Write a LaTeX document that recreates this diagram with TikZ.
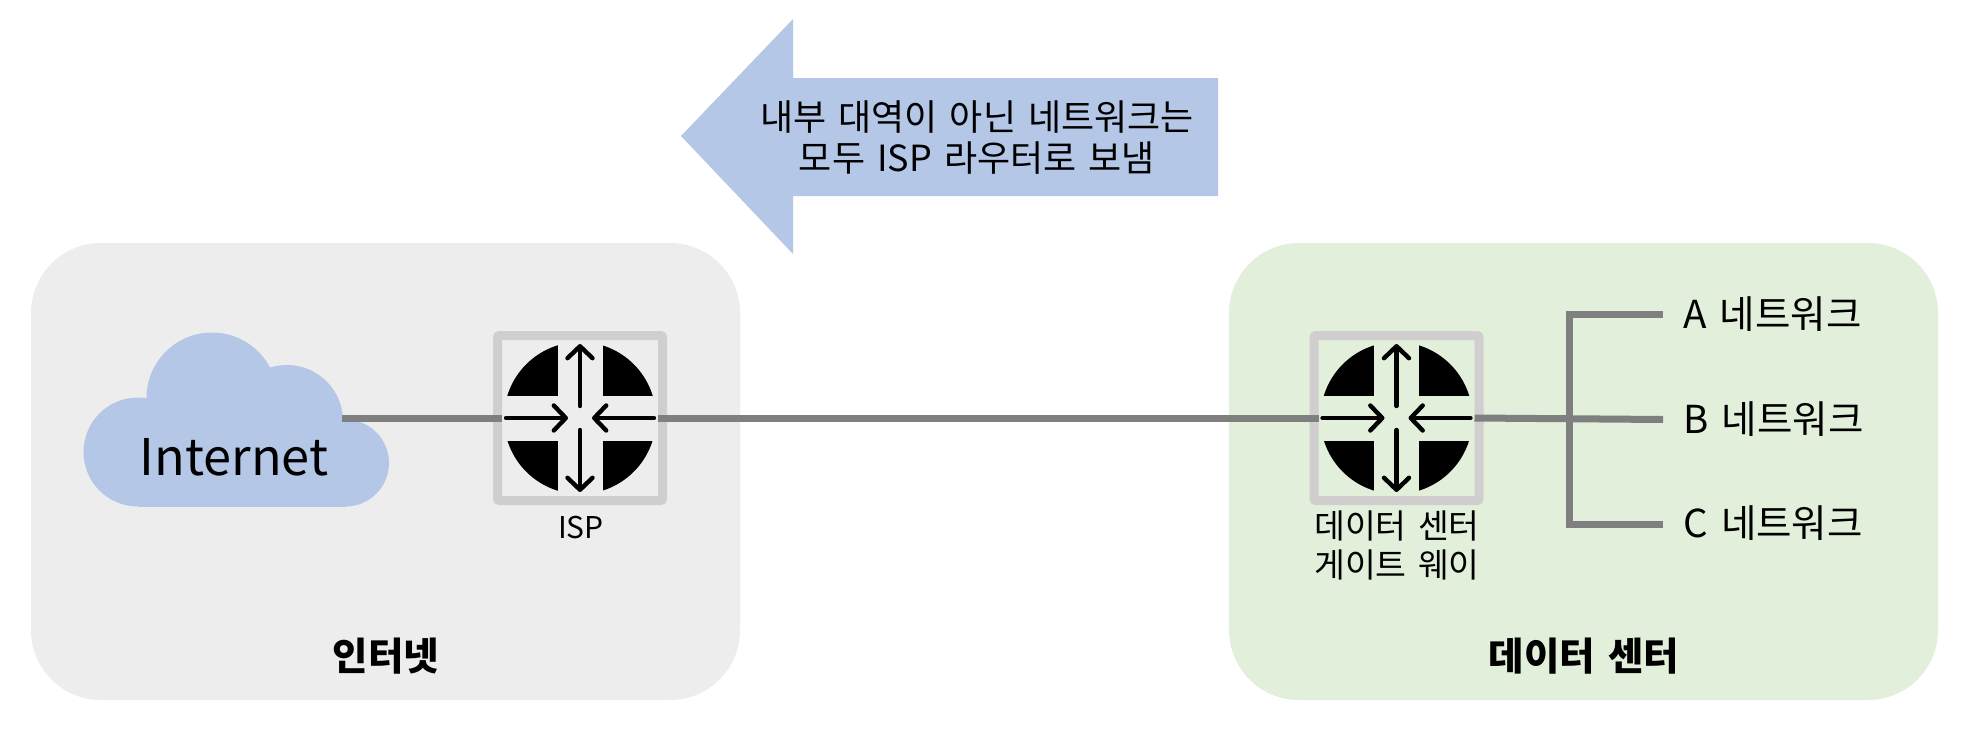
\documentclass[tikz,border=0pt]{standalone}
\usepackage{fontspec}
\setmainfont{Noto Sans CJK KR}[WordSpace=1.5]
\usetikzlibrary{arrows.meta, positioning}
\definecolor{panelgray}{HTML}{EDEDED}
\definecolor{panelgreen}{HTML}{E2EFDA}
\definecolor{skyblue}{HTML}{B4C7E7}
\definecolor{framegray}{HTML}{D0CECE}
\definecolor{linkgray}{HTML}{7F7F7F}
\tikzset{
    panel/.style={fill=#1, rounded corners=70pt},
    routerbox/.style={draw=framegray, line width=9pt, rounded corners=2pt, minimum size=165pt, inner sep=0pt, outer sep=-4.5pt},
    link/.style={draw=linkgray, line width=7pt},
    flow/.style={line width=4.4pt, line cap=round, -{Straight Barb[length=12pt, width=25pt, round]}},
    routericon/.pic={
        \begin{scope}
            \clip (0,0) circle (76);
            \fill[black] (-22.5,-22.5) rectangle (-80,-80);
            \fill[black] (22.5,-22.5) rectangle (80,-80);
            \fill[black] (-22.5,22.5) rectangle (-80,80);
            \fill[black] (22.5,22.5) rectangle (80,80);
        \end{scope}
        \draw[flow] (0,-12) -- (0,-74);
        \draw[flow] (0,12) -- (0,74);
        \draw[flow] (-74,0) -- (-12,0);
        \draw[flow] (74,0) -- (12,0);
    }
}

\begin{document}
\begin{tikzpicture}[x=1pt, y=-1pt]
    \useasboundingbox (0,0) rectangle (1970,736);
    \fill[white] (0,0) rectangle (1970,736);

    % panels
    \fill[panel=panelgray] (31,243) rectangle (740,700);
    \fill[panel=panelgreen] (1229,243) rectangle (1938,700);

    % arrow
    \fill[skyblue] (681,136) -- (793,19) -- (793,78) -- (1218,78) -- (1218,196) -- (793,196) -- (793,254) -- cycle;
    \node[align=center, font=\fontsize{36}{41}\selectfont] (notice) at (977,138) {내부 대역이 아닌 네트워크는\\모두 ISP 라우터로 보냄};

    % cloud
    \fill[skyblue] (138,452) circle (54.5);
    \fill[skyblue] (212,398) circle (65.5);
    \fill[skyblue] (287,421) circle (56);
    \fill[skyblue] (345.5,463) circle (43.5);
    \fill[skyblue] (138,430) rectangle (345.5,506.5);
    \node[font=\fontsize{50.5}{60}\selectfont] (internet) at (234,457) {Internet};
    \coordinate (cloudport) at (342,418);

    % routers
    \node[routerbox] (isp) at (580,418) {};
    \node[routerbox] (gateway) at (1396.5,418) {};
    \node[font=\fontsize{30}{36}\selectfont] (isplabel) at (581,527) {ISP};
    \node[align=center, font=\fontsize{33.5}{38.5}\selectfont] (gatewaylabel) at (1397,545.5) {데이터 센터\\게이트 웨이};

    % network lines
    \coordinate (busA) at (1569,314);
    \coordinate (busC) at (1569,524);
    \coordinate (endA) at (1663,314);
    \coordinate (endB) at (1663,419.5);
    \coordinate (endC) at (1663,524);
    \draw[link] (cloudport) -- (isp.west);
    \draw[link] (isp.east) -- (gateway.west);
    \draw[link] (gateway.east) -- (endB);
    \draw[link] (endA) -- (busA) -- (busC) -- (endC);

    \pic at (isp) {routericon};
    \pic at (gateway) {routericon};

    \node[anchor=west, font=\fontsize{38.5}{40}\selectfont] (netA) at (1680,314) {A 네트워크};
    \node[anchor=west, font=\fontsize{38.5}{40}\selectfont] (netB) at (1680,419) {B 네트워크};
    \node[anchor=west, font=\fontsize{38.5}{40}\selectfont] (netC) at (1680,523) {C 네트워크};

    % panel titles
    \node[font=\bfseries\fontsize{38.5}{42}\selectfont] (inettitle) at (386,656) {인터넷};
    \node[font=\bfseries\fontsize{38.5}{42}\selectfont] (dctitle) at (1584,656) {데이터 센터};
\end{tikzpicture}
\end{document}
